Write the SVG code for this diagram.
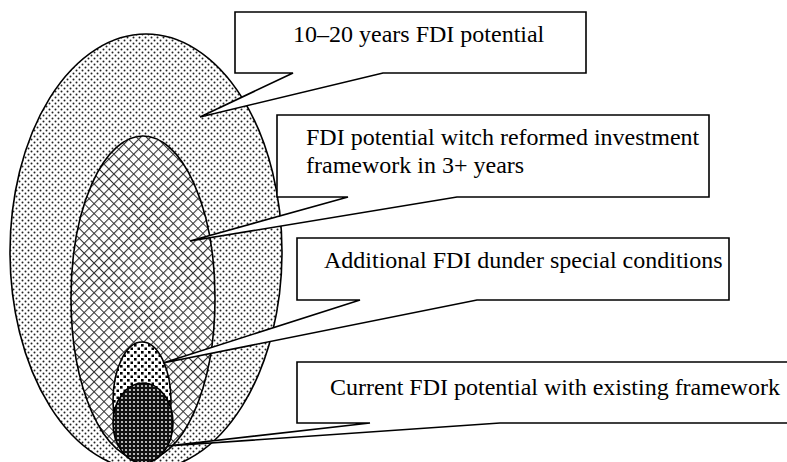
<svg xmlns="http://www.w3.org/2000/svg" width="787" height="462" viewBox="0 0 787 462">
<style>
.el{stroke:#000;stroke-width:1.6}
.co{fill:#fff;stroke:#000;stroke-width:1.6;stroke-linejoin:miter}
.t{font-family:"Liberation Serif","Times New Roman",serif;font-size:24px;fill:#000}
</style>
<defs>
<pattern id="pDots" width="6" height="6" patternUnits="userSpaceOnUse">
<rect width="6" height="6" fill="#fff"/>
<circle cx="1.5" cy="1.5" r="1" fill="#222"/>
<circle cx="4.5" cy="4.5" r="1" fill="#222"/>
</pattern>
<pattern id="pCross" width="7" height="7" patternUnits="userSpaceOnUse" patternTransform="rotate(45)">
<rect width="7" height="7" fill="#fff"/>
<path d="M0,0.5H7M0.5,0V7" stroke="#333" stroke-width="1.2"/>
</pattern>
<pattern id="pSq" width="7" height="7" patternUnits="userSpaceOnUse">
<rect width="7" height="7" fill="#fff"/>
<rect x="1" y="1" width="2.6" height="2.6" fill="#000"/>
<rect x="4.5" y="4.5" width="2.6" height="2.6" fill="#000"/>
</pattern>
<pattern id="pDark" width="4" height="4" patternUnits="userSpaceOnUse">
<rect width="4" height="4" fill="#111"/>
<circle cx="2" cy="2" r="1.1" fill="#ddd"/>
</pattern>
</defs>
<g id="outer"><ellipse class="el" cx="146" cy="252" rx="136" ry="218" fill="url(#pDots)"/></g>
<g id="middle"><ellipse class="el" cx="143" cy="298" rx="72" ry="162" fill="url(#pCross)"/></g>
<g id="special"><ellipse class="el" cx="142" cy="401" rx="29" ry="59" fill="url(#pSq)"/></g>
<g id="current"><ellipse class="el" cx="143" cy="423" rx="30" ry="40" fill="url(#pDark)"/></g>
<g id="connectors">
<path class="co" d="M235,12H586V73H383L200,117L293,73H235Z"/>
<path class="co" d="M277,115H709V197H457L190,241L348,197H277Z"/>
<path class="co" d="M297,238H729V300H477L163,363L360,300H297Z"/>
<path class="co" d="M297,362H800V423H500L167,446L370,423H297Z"/>
</g>
<g id="label1"><text class="t" x="293" y="42">10–20 years FDI potential</text></g>
<g id="label2"><text class="t" x="306" y="145">FDI potential witch reformed investment</text><text class="t" x="306" y="173">framework in 3+ years</text></g>
<g id="label3"><text class="t" x="324" y="268">Additional FDI dunder special conditions</text></g>
<g id="label4"><text class="t" x="330" y="395">Current FDI potential with existing framework</text></g>
</svg>
